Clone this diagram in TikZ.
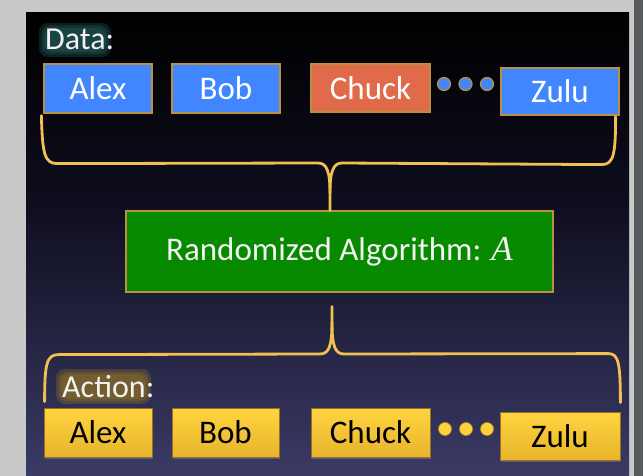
\documentclass[tikz,border=0pt]{standalone}
\usepackage{fontspec}
\setmainfont{Carlito}
\newfontfamily\serifit{Liberation Serif}
\usetikzlibrary{calc,shadows}
\definecolor{pagegray}{RGB}{200,201,200}
\definecolor{darkstrip}{RGB}{88,91,94}
\definecolor{bgtop}{RGB}{0,0,0}
\definecolor{bgmid}{RGB}{14,13,30}
\definecolor{bgbot}{RGB}{58,58,102}
\definecolor{boxblue}{RGB}{66,134,255}
\definecolor{boxorange}{RGB}{224,106,74}
\definecolor{boxgreen}{RGB}{8,138,0}
\definecolor{goldline}{RGB}{240,192,80}
\definecolor{goldedge}{RGB}{184,144,64}
\definecolor{yeltop}{RGB}{255,212,64}
\definecolor{yelbot}{RGB}{232,180,44}
\definecolor{yeledge}{RGB}{150,115,30}
\definecolor{tealglow}{RGB}{40,110,105}
\definecolor{goldglow}{RGB}{160,125,30}
\tikzset{
  databox/.style={draw=goldedge, line width=1.2pt, text=white, font=\fontsize{33}{36}\selectfont, inner sep=0pt},
  actbox/.style={draw=yeledge, line width=0.8pt, top color=yeltop, bottom color=yelbot, text=black,
     font=\fontsize{33}{36}\selectfont, inner sep=0pt, drop shadow={shadow xshift=1pt, shadow yshift=-1.5pt, opacity=0.5}},
  datadot/.style={circle, fill=boxblue, draw=goldedge, line width=1.2pt, minimum size=13pt, inner sep=0pt},
  actdot/.style={circle, fill=yeltop!90!yelbot, draw=yelbot!80!black, line width=0.6pt, minimum size=13pt, inner sep=0pt},
  brace/.style={draw=goldline, line width=2.8pt, line cap=round, line join=round},
  lbl/.style={text=white!95!black, font=\fontsize{32}{36}\selectfont, inner sep=0pt, anchor=base west},
  glowlayer/.style={fill=#1, opacity=0.28, rounded corners=9pt}
}
\begin{document}
\begin{tikzpicture}[x=1pt,y=-1pt]
\useasboundingbox (0,0) rectangle (643,476);
% page frame
\fill[pagegray] (0,0) rectangle (643,476);
\fill[darkstrip] (634,0) rectangle (643,476);
% dark panel with vertical gradient
\shade[top color=bgtop, bottom color=bgmid] (26,13) rectangle (629,200);
\shade[top color=bgmid, bottom color=bgbot] (26,199.5) rectangle (629,476);

% soft glows behind the labels
\foreach \d in {0,2.5,5}{
  \fill[glowlayer=tealglow] (39+\d,23+\d) rectangle (111-\d,57-\d);
  \fill[glowlayer=goldglow] (56+\d,369+\d) rectangle (151-\d,404-\d);
}
\node[lbl] (datalbl) at (45,50) {Data:};
\node[lbl] (actlbl) at (62,397) {Action:};

% data row
\node[databox, fill=boxblue, minimum width=108pt, minimum height=49pt] (dalex) at (98,88.5) {Alex};
\node[databox, fill=boxblue, minimum width=108pt, minimum height=49pt] (dbob) at (226,88.5) {Bob};
\node[databox, fill=boxorange, minimum width=119pt, minimum height=48pt] (dchuck) at (370.5,88) {Chuck};
\node[databox, fill=boxblue, minimum width=118pt, minimum height=47pt] (dzulu) at (560,91.5) {Zulu};
\node[datadot] (dd1) at (444,84) {};
\node[datadot] (dd2) at (465.5,84) {};
\node[datadot] (dd3) at (487,84) {};

% algorithm
\node[draw=goldedge, line width=1.2pt, fill=boxgreen, text=white!95!black, minimum width=427pt, minimum height=81pt,
      font=\fontsize{33}{36}\selectfont, inner sep=0pt] (alg) at (339.5,251.5) {Randomized Algorithm: {\serifit\itshape\fontsize{35}{36}\selectfont A}};

% action row
\node[actbox, minimum width=108pt, minimum height=49pt] (aalex) at (98,432.5) {Alex};
\node[actbox, minimum width=107pt, minimum height=49pt] (abob) at (225.5,432.5) {Bob};
\node[actbox, minimum width=119pt, minimum height=49pt] (achuck) at (370.5,432.5) {Chuck};
\node[actbox, minimum width=120pt, minimum height=48pt] (azulu) at (560,436) {Zulu};
\node[actdot] (ad1) at (445,429) {};
\node[actdot] (ad2) at (466,429) {};
\node[actdot] (ad3) at (487,429) {};

% brace anchors
\coordinate (tbL) at ($(dalex.south west)+(-2,2)$);
\coordinate (tbR) at ($(dzulu.south east)+(-4,1)$);
\coordinate (tbS) at (alg.north -| 330,0);
\coordinate (bbS) at ($(alg.south -| 332,0)+(0,14)$);
\coordinate (bbL) at ($(aalex.north west)+(1,-6)$);
\coordinate (bbR) at ($(azulu.north east)+(0,-9)$);

% upper brace
\draw[brace] (tbL) .. controls ($(tbL)+(1,38)$) and ($(tbL)+(3,48)$) .. ($(tbL)+(16,48)$)
   -- (318,163) .. controls (327,163) and (330,172) .. (330,193) -- (tbS);
\draw[brace] (330,193) .. controls (330,172) and (333,163) .. (342,163)
   -- ($(tbR)+(-14,48)$) .. controls ($(tbR)+(-2,48)$) and ($(tbR)+(0,38)$) .. (tbR);

% lower brace
\draw[brace] (bbS) -- (332,322) .. controls (332,346) and (329,354) .. (320,354)
   -- ($(bbL)+(14,-47)$) .. controls ($(bbL)+(2,-47)$) and ($(bbL)+(0,-38)$) .. (bbL);
\draw[brace] (332,322) .. controls (332,346) and (335,354) .. (344,354)
   -- ($(bbR)+(-12,-49)$) .. controls ($(bbR)+(-2,-49)$) and ($(bbR)+(0,-40)$) .. (bbR);
\end{tikzpicture}
\end{document}
